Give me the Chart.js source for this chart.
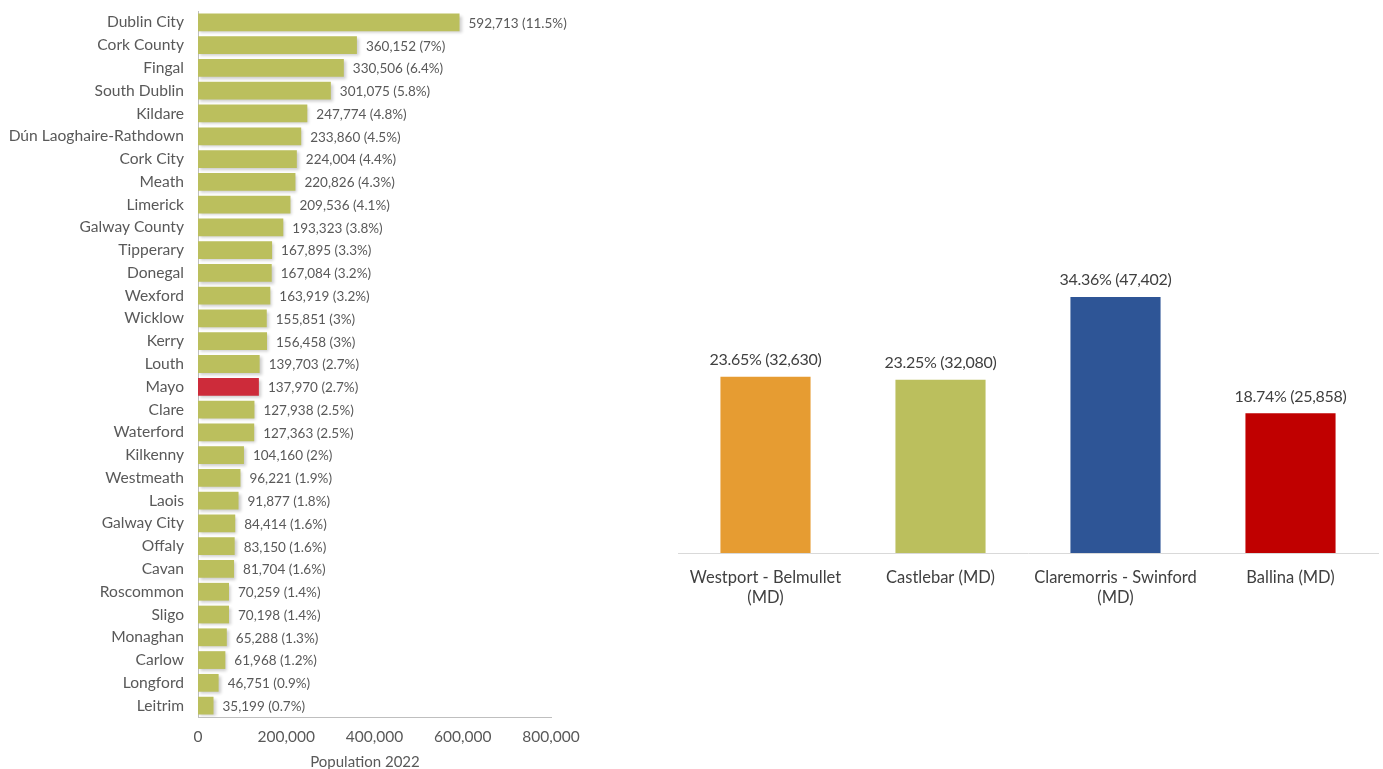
<!DOCTYPE html>
<html>
<head>
<meta charset="utf-8">
<script src="https://cdn.jsdelivr.net/npm/chart.js@4.4.1/dist/chart.umd.min.js"></script>
<style>
  html, body { margin: 0; padding: 0; background: #ffffff; }
  body { width: 1383px; height: 769px; position: relative; overflow: hidden; }
  #countyWrap { position: absolute; left: 0; top: 0; width: 620px; height: 769px; }
  #mdWrap { position: absolute; left: 660px; top: 0; width: 723px; height: 769px; }
</style>
</head>
<body>
<div id="countyWrap"><canvas id="countyChart"></canvas></div>
<div id="mdWrap"><canvas id="mdChart"></canvas></div>
<script>
// County populations, Census 2022
const counties = ['Dublin City', 'Cork County', 'Fingal', 'South Dublin', 'Kildare',
  'Dún Laoghaire-Rathdown', 'Cork City', 'Meath', 'Limerick', 'Galway County',
  'Tipperary', 'Donegal', 'Wexford', 'Wicklow', 'Kerry', 'Louth', 'Mayo', 'Clare',
  'Waterford', 'Kilkenny', 'Westmeath', 'Laois', 'Galway City', 'Offaly', 'Cavan',
  'Roscommon', 'Sligo', 'Monaghan', 'Carlow', 'Longford', 'Leitrim'];
const countyPopulation = [592713, 360152, 330506, 301075, 247774, 233860, 224004,
  220826, 209536, 193323, 167895, 167084, 163919, 155851, 156458, 139703, 137970,
  127938, 127363, 104160, 96221, 91877, 84414, 83150, 81704, 70259, 70198, 65288,
  61968, 46751, 35199];
const countyShare = [11.5, 7, 6.4, 5.8, 4.8, 4.5, 4.4, 4.3, 4.1, 3.8, 3.3, 3.2, 3.2,
  3, 3, 2.7, 2.7, 2.5, 2.5, 2, 1.9, 1.8, 1.6, 1.6, 1.6, 1.4, 1.4, 1.3, 1.2, 0.9, 0.7];
const populationTicks = [0, 200000, 400000, 600000, 800000];
const populationTitle = 'Population 2022';
const highlightCounty = 'Mayo';

// Mayo municipal districts
const districts = [['Westport - Belmullet', '(MD)'], 'Castlebar (MD)',
  ['Claremorris - Swinford', '(MD)'], 'Ballina (MD)'];
const districtPopulation = [32630, 32080, 47402, 25858];
const districtShare = [23.65, 23.25, 34.36, 18.74];
const districtColors = ['#E69C32', '#BBBF5D', '#2E5596', '#C00000'];

const fmt = n => n.toLocaleString('en-US');
const FONT = 'Lato, "Open Sans", sans-serif';

// soft drop shadow behind the county bars
const barShadow = {
  id: 'barShadow',
  beforeDatasetsDraw(chart) {
    const ctx = chart.ctx;
    ctx.save();
    ctx.shadowColor = 'rgba(0,0,0,0.2)';
    ctx.shadowBlur = 3;
    ctx.shadowOffsetX = 2;
    ctx.shadowOffsetY = 2;
  },
  afterDatasetsDraw(chart) { chart.ctx.restore(); }
};

// value labels to the right of each county bar, plus the axis caption
const countyLabels = {
  id: 'countyLabels',
  afterDraw(chart) {
    const ctx = chart.ctx;
    const meta = chart.getDatasetMeta(0);
    ctx.save();
    ctx.font = '13.5px ' + FONT;
    ctx.fillStyle = '#595959';
    ctx.textAlign = 'left';
    ctx.textBaseline = 'middle';
    meta.data.forEach((bar, i) => {
      ctx.fillText(fmt(countyPopulation[i]) + ' (' + countyShare[i] + '%)', bar.x + 9, bar.y + 1);
    });
    ctx.font = '15px ' + FONT;
    ctx.textAlign = 'center';
    ctx.fillText(populationTitle, chart.chartArea.left + 167, 762);
    ctx.restore();
  }
};

new Chart(document.getElementById('countyChart'), {
  type: 'bar',
  data: {
    labels: counties,
    datasets: [{
      data: countyPopulation,
      backgroundColor: counties.map(c => c === highlightCounty ? '#CD2B3A' : '#BBBF5D'),
      borderWidth: 0,
      categoryPercentage: 1,
      barPercentage: 0.78
    }]
  },
  options: {
    indexAxis: 'y',
    responsive: true,
    maintainAspectRatio: false,
    animation: false,
    layout: { padding: { top: 11, right: 69, bottom: 0, left: 0 } },
    plugins: { legend: { display: false }, tooltip: { enabled: false } },
    scales: {
      y: {
        afterFit(scale) {
          scale.width = 198;
          scale.paddingTop = 0;
          scale.paddingBottom = 0;
        },
        grid: { display: false, drawTicks: false },
        border: { display: true, color: '#bfbfbf', width: 1 },
        ticks: { color: '#595959', font: { family: FONT, size: 15.6 }, padding: 14, autoSkip: false }
      },
      x: {
        min: 0,
        max: 800000,
        afterFit(scale) { scale.height = 52; },
        afterBuildTicks(scale) { scale.ticks = populationTicks.map(v => ({ value: v })); },
        grid: { display: false, drawTicks: false },
        border: { display: true, color: '#bfbfbf', width: 1 },
        ticks: { color: '#595959', font: { family: FONT, size: 15.5 }, padding: 11, callback: v => fmt(v) }
      }
    }
  },
  plugins: [barShadow, countyLabels]
});

// share and population labels above each district column
const districtLabels = {
  id: 'districtLabels',
  afterDraw(chart) {
    const ctx = chart.ctx;
    const meta = chart.getDatasetMeta(0);
    ctx.save();
    ctx.font = '16px ' + FONT;
    ctx.letterSpacing = '-0.3px';
    ctx.fillStyle = '#404040';
    ctx.textAlign = 'center';
    ctx.textBaseline = 'middle';
    meta.data.forEach((bar, i) => {
      ctx.fillText(districtShare[i].toFixed(2) + '% (' + fmt(districtPopulation[i]) + ')', bar.x, bar.y - 17);
    });
    ctx.restore();
  }
};

new Chart(document.getElementById('mdChart'), {
  type: 'bar',
  data: {
    labels: districts,
    datasets: [{
      data: districtPopulation,
      backgroundColor: districtColors,
      borderWidth: 0,
      categoryPercentage: 1,
      barPercentage: 0.515
    }]
  },
  options: {
    responsive: true,
    maintainAspectRatio: false,
    animation: false,
    layout: { padding: { top: 229, right: 5, bottom: 0, left: 18 } },
    plugins: { legend: { display: false }, tooltip: { enabled: false } },
    scales: {
      y: { display: false, min: 0, max: 60000 },
      x: {
        afterFit(scale) { scale.height = 216; },
        grid: { display: false, drawTicks: false },
        border: { display: true, color: '#d9d9d9', width: 1 },
        ticks: { color: '#404040', font: { family: FONT, size: 16.5, lineHeight: 1.2 }, padding: 15, maxRotation: 0, autoSkip: false }
      }
    }
  },
  plugins: [districtLabels]
});
</script>
</body>
</html>
